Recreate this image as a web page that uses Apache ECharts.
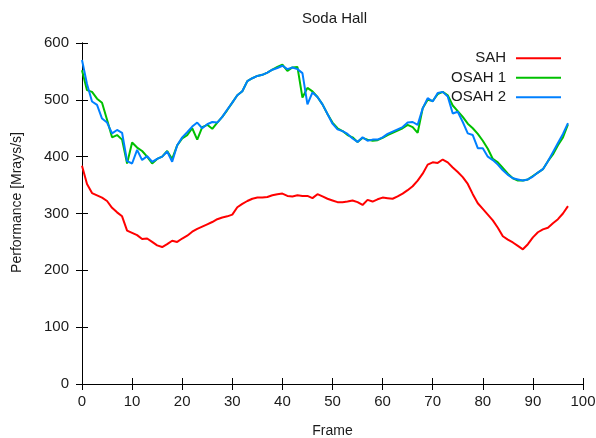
<!DOCTYPE html>
<html>
<head>
<meta charset="utf-8">
<script src="https://cdn.jsdelivr.net/npm/echarts@6/dist/echarts.min.js"></script>
<style>
html, body { margin: 0; padding: 0; background: #fff; }
#main { width: 596px; height: 438px; }
</style>
</head>
<body>
<div id="main"></div>
<script>
var myChart = echarts.init(document.getElementById('main'));

// frames 0..97
var frames = [];
for (var i = 0; i < 98; i++) frames.push(i);

var seriesNames = ['SAH', 'OSAH 1', 'OSAH 2'];
var seriesColors = ['#ff0000', '#00c000', '#0080ff'];

var sah = [384, 352, 336, 332, 328, 322, 310, 302, 295, 270,
    266, 262, 255, 256, 250, 244, 241, 246, 252, 250,
    256, 261, 268, 273, 277, 281, 285, 290, 293, 295,
    298, 311, 317, 322, 326, 328, 328, 329, 332, 334,
    335, 331, 330, 332, 331, 331, 327, 334, 330, 326,
    323, 320, 320, 321, 323, 320, 315, 324, 321, 325,
    328, 327, 326, 330, 335, 341, 348, 358, 370, 386,
    390, 389, 395, 390, 381, 373, 364, 352, 334, 318,
    308, 298, 288, 275, 260, 254, 249, 243, 237, 246,
    258, 267, 272, 275, 283, 290, 300, 313];

var osah1 = [552, 517, 514, 502, 495, 465, 434, 438, 430, 388,
    425, 416, 410, 400, 388, 396, 400, 410, 396, 420,
    432, 438, 450, 430, 452, 456, 449, 460, 470, 482,
    495, 508, 515, 533, 538, 542, 544, 548, 553, 558,
    562, 551, 557, 558, 504, 521, 515, 505, 492, 475,
    460, 450, 445, 438, 434, 426, 433, 430, 428, 429,
    433, 438, 442, 446, 450, 456, 452, 442, 485, 500,
    498, 510, 514, 508, 490, 480, 470, 458, 450, 440,
    428, 414, 396, 390, 380, 370, 362, 358, 358, 360,
    366, 372, 378, 392, 404, 420, 434, 457];

var osah2 = [570, 528, 497, 491, 467, 460, 441, 447, 442, 392,
    388, 412, 394, 401, 391, 396, 400, 409, 391, 420,
    434, 443, 453, 460, 450, 457, 461, 460, 470, 483,
    495, 508, 515, 533, 538, 542, 544, 548, 553, 556,
    560, 554, 557, 554, 547, 492, 513, 505, 492, 475,
    458, 448, 445, 440, 432, 426, 434, 428, 430, 430,
    434, 440, 444, 448, 452, 460, 461, 456, 485, 503,
    497, 512, 514, 506, 476, 479, 461, 441, 438, 415,
    415, 400, 394, 386, 376, 368, 362, 360, 358, 360,
    365, 372, 378, 392, 408, 424, 440, 459];

var allData = [sah, osah1, osah2];

function pairs(arr) {
    var out = [];
    for (var k = 0; k < arr.length; k++) out.push([frames[k], arr[k]]);
    return out;
}

var font = 'Liberation Sans, Arial, sans-serif';
var ink = '#1a1a1a';

var series = [];
for (var s = 0; s < seriesNames.length; s++) {
    series.push({
        name: seriesNames[s],
        type: 'line',
        data: pairs(allData[s]),
        showSymbol: false,
        symbol: 'none',
        lineStyle: { color: seriesColors[s], width: 2 },
        itemStyle: { color: seriesColors[s] },
        z: 2 + s
    });
}

var tickStyle = { show: true, inside: true, length: 6, lineStyle: { color: '#000', width: 1 } };

option = {
    backgroundColor: '#fff',
    animation: false,
    title: {
        text: 'Soda Hall',
        left: 297,
        top: 6,
        textStyle: { fontFamily: font, fontSize: 15, fontWeight: 'normal', color: ink }
    },
    legend: {
        data: seriesNames,
        orient: 'vertical',
        right: 30,
        top: 45,
        align: 'right',
        icon: 'rect',
        itemWidth: 45,
        itemHeight: 2,
        itemGap: 3,
        textStyle: { fontFamily: font, fontSize: 15, color: ink, lineHeight: 16.5, padding: [0, 5, 0, 0] }
    },
    grid: { left: 82, right: 13, top: 43, bottom: 54, containLabel: false, outerBoundsMode: 'none' },
    xAxis: [{
        type: 'value',
        min: 0,
        max: 100,
        interval: 10,
        position: 'bottom',
        name: 'Frame',
        nameLocation: 'middle',
        nameGap: 40,
        nameTextStyle: { fontFamily: font, fontSize: 14, color: ink },
        axisLine: { show: true, lineStyle: { color: '#000', width: 1 } },
        axisTick: tickStyle,
        axisLabel: { fontFamily: font, fontSize: 15, color: ink, margin: 10 },
        splitLine: { show: false }
    }, {
        type: 'value',
        min: 0,
        max: 100,
        interval: 10,
        position: 'top',
        axisLine: { show: true, lineStyle: { color: '#000', width: 1 } },
        axisTick: tickStyle,
        axisLabel: { show: false },
        splitLine: { show: false }
    }],
    yAxis: [{
        type: 'value',
        min: 0,
        max: 600,
        interval: 100,
        position: 'left',
        name: 'Performance [Mrays/s]',
        nameLocation: 'middle',
        nameGap: 58,
        nameTextStyle: { fontFamily: font, fontSize: 14, color: ink, padding: [0, 0, 0, 22] },
        axisLine: { show: true, lineStyle: { color: '#000', width: 1 } },
        axisTick: tickStyle,
        axisLabel: { fontFamily: font, fontSize: 15, color: ink, margin: 13 },
        splitLine: { show: false }
    }, {
        type: 'value',
        min: 0,
        max: 600,
        interval: 100,
        position: 'right',
        axisLine: { show: true, lineStyle: { color: '#000', width: 1 } },
        axisTick: tickStyle,
        axisLabel: { show: false },
        splitLine: { show: false }
    }],
    series: series
};

myChart.setOption(option);
</script>
</body>
</html>
